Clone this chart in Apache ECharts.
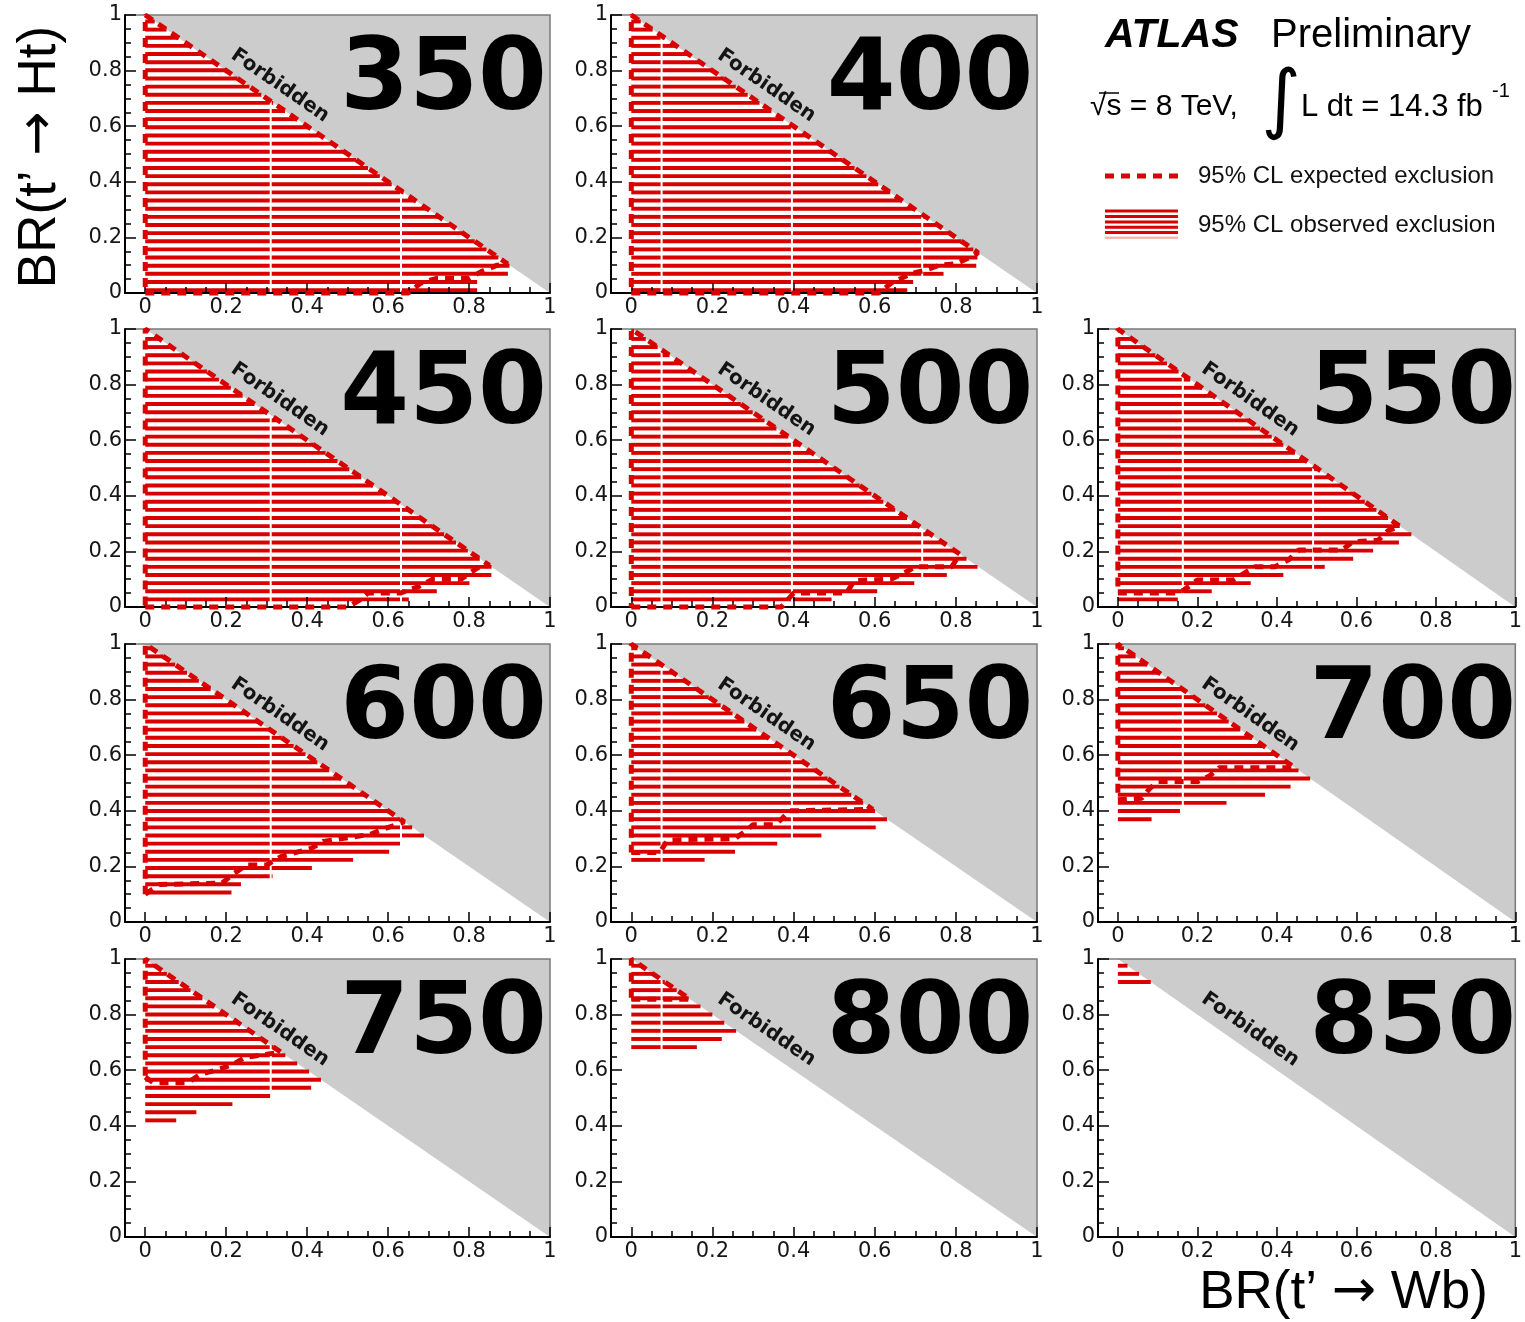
<!DOCTYPE html>
<html>
<head>
<meta charset="utf-8">
<script src="https://cdn.jsdelivr.net/npm/echarts@6/dist/echarts.min.js"></script>
<style>
  html, body { margin: 0; padding: 0; background: #ffffff; }
  #chart { width: 1525px; height: 1322px; }
</style>
</head>
<body>
<div id="chart"></div>
<script>
// t' signal masses in GeV, one panel each
const masses = [350, 400, 450, 500, 550, 600, 650, 700, 750, 800, 850];

// Tick values shared by every panel
const majorTicks = [0, 0.2, 0.4, 0.6, 0.8, 1];
const minorTicks = [-0.05, 0.05, 0.1, 0.15, 0.25, 0.3, 0.35, 0.45, 0.5, 0.55,
                    0.65, 0.7, 0.75, 0.85, 0.9, 0.95];

// 95% CL observed excluded regions: polygon vertices [BR(t'->Wb), BR(t'->Ht)]
const obs350 = [[0, 0], [0, 1], [0.90, 0.10], [0.90, 0.07], [0.86, 0.06], [0.82, 0.04], [0.82, 0]];
const obs400 = [[0, 0], [0, 1], [0.855, 0.145], [0.85, 0.095], [0.81, 0.08], [0.70, 0.05], [0.675, 0]];
const obs450 = [[0, 0], [0, 1], [0.87, 0.13], [0.84, 0.10], [0.73, 0.06], [0.66, 0.035], [0.62, 0]];
const obs500 = [[0, 0], [0, 1], [0.855, 0.145], [0.79, 0.12], [0.74, 0.10], [0.62, 0.06], [0.50, 0.03], [0.43, 0]];
const obs550 = [[0, 0], [0, 1], [0.755, 0.245], [0.68, 0.225], [0.62, 0.19], [0.56, 0.155], [0.43, 0.12],
                [0.29, 0.07], [0.17, 0.04], [0.11, 0]];
const obs600 = [[0, 0.09], [0, 1], [0.69, 0.31], [0.64, 0.29], [0.60, 0.25], [0.47, 0.21], [0.36, 0.18],
                [0.24, 0.14], [0.20, 0.09]];
const obs650 = [[0, 0.21], [0, 1], [0.65, 0.35], [0.55, 0.33], [0.42, 0.30], [0.32, 0.27], [0.19, 0.235], [0.17, 0.21]];
const obs700 = [[0, 0.345], [0, 1], [0.50, 0.50], [0.40, 0.48], [0.36, 0.45], [0.22, 0.415], [0.10, 0.385], [0.06, 0.345]];
const obs750 = [[0, 0.405], [0, 1], [0.45, 0.55], [0.39, 0.53], [0.30, 0.505], [0.19, 0.47], [0.10, 0.44], [0.06, 0.405]];
const obs800 = [[0, 0.665], [0, 1], [0.26, 0.74], [0.22, 0.71], [0.17, 0.69], [0.14, 0.665]];
const obs850 = [[0, 0.90], [0, 1], [0.10, 0.90]];

// 95% CL expected exclusion contours
const exp350 = [[0, 0], [0.65, 0], [0.68, 0.035], [0.72, 0.053], [0.80, 0.053], [0.83, 0.077], [0.87, 0.10],
                [0.895, 0.105], [0, 1], [0, 0]];
const exp400 = [[0, 0], [0.61, 0], [0.64, 0.035], [0.69, 0.07], [0.72, 0.08], [0.76, 0.10], [0.80, 0.105],
                [0.83, 0.125], [0.855, 0.145], [0, 1], [0, 0]];
const exp450 = [[0, 0], [0.50, 0], [0.53, 0.025], [0.55, 0.05], [0.63, 0.05], [0.675, 0.073], [0.71, 0.10],
                [0.78, 0.10], [0.82, 0.14], [0.85, 0.15], [0, 1], [0, 0]];
const exp500 = [[0, 0], [0.37, 0], [0.40, 0.05], [0.53, 0.05], [0.55, 0.095], [0.64, 0.10], [0.67, 0.12],
                [0.70, 0.145], [0.79, 0.145], [0.81, 0.19], [0, 1], [0, 0]];
const exp550 = [[0, 0.05], [0.14, 0.05], [0.165, 0.06], [0.20, 0.097], [0.29, 0.097], [0.31, 0.115],
                [0.345, 0.145], [0.395, 0.145], [0.43, 0.17], [0.455, 0.205], [0.565, 0.205], [0.59, 0.235],
                [0.655, 0.24], [0.68, 0.275], [0.71, 0.29], [0, 1], [0, 0.05]];
const exp600 = [[0, 0.10], [0.035, 0.135], [0.19, 0.14], [0.22, 0.175], [0.25, 0.205], [0.30, 0.205],
                [0.335, 0.235], [0.36, 0.245], [0.41, 0.265], [0.44, 0.29], [0.555, 0.315], [0.59, 0.335],
                [0.64, 0.36], [0, 1], [0, 0.10]];
const exp650 = [[0, 0.25], [0.07, 0.25], [0.09, 0.295], [0.255, 0.30], [0.285, 0.33], [0.30, 0.35],
                [0.355, 0.35], [0.37, 0.37], [0.39, 0.40], [0.595, 0.405], [0, 1], [0, 0.25]];
const exp700 = [[0, 0.44], [0.06, 0.445], [0.08, 0.48], [0.10, 0.505], [0.20, 0.505], [0.23, 0.525],
                [0.255, 0.555], [0.445, 0.555], [0, 1], [0, 0.44]];
const exp750 = [[0, 0.575], [0.02, 0.555], [0.105, 0.555], [0.135, 0.585], [0.175, 0.60], [0.215, 0.62],
                [0.245, 0.645], [0.29, 0.655], [0.335, 0.665], [0, 1], [0, 0.575]];
const exp800 = [[0, 0.855], [0.145, 0.855], [0, 1], [0, 0.855]];
const exp850 = [];

const observed = [obs350, obs400, obs450, obs500, obs550, obs600, obs650, obs700, obs750, obs800, obs850];
const expected = [exp350, exp400, exp450, exp500, exp550, exp600, exp650, exp700, exp750, exp800, exp850];

// ---- layout & style ----
const COL_LEFT = [125, 611, 1098];
const COL_WIDTH = [425, 426, 425];
const ROW_TOP = [15, 329, 644, 959];
const ROW_HEIGHT = 278;

const RED = '#d80000';
const GRAY = '#cccccc';
const TICK_FONT = '"DejaVu Sans", sans-serif';
const TEXT_FONT = '"Liberation Sans", Arial, sans-serif';

// hatch pattern (pixel space, shared by the whole canvas)
const HATCH_PERIOD = 8.14;
const HATCH_PHASE = 5.2;
const HATCH_THICK = 3.9;
const SEAM_X0 = 270.7;
const SEAM_STEP = 130.3;
const SEAM_GAP = 2;

function fmtTick(v) {
  const r = Math.round(v * 10) / 10;
  return r === 0 ? '0' : r === 1 ? '1' : String(r);
}

// slot in the 3x4 layout (top-right slot holds the legend)
function slotOf(i) {
  const s = i < 2 ? i : i + 1;
  return { row: Math.floor(s / 3), col: s % 3 };
}

function hatchRect(x0, x1, y) {
  return { type: 'rect', shape: { x: x0, y: y - HATCH_THICK / 2, width: x1 - x0, height: HATCH_THICK },
           style: { fill: RED } };
}

// horizontal line hatching of an excluded polygon
function hatchRenderer(poly) {
  return function (params, api) {
    const children = [];
    if (!poly.length) return { type: 'group', children };
    const pts = poly.map(p => api.coord(p));
    const ys = pts.map(p => p[1]);
    const yMin = Math.min.apply(null, ys), yMax = Math.max.apply(null, ys);
    const k0 = Math.ceil((yMin - HATCH_PHASE) / HATCH_PERIOD);
    for (let y = HATCH_PHASE + k0 * HATCH_PERIOD; y <= yMax; y += HATCH_PERIOD) {
      const xs = [];
      for (let i = 0; i < pts.length; i++) {
        const a = pts[i], b = pts[(i + 1) % pts.length];
        if ((a[1] <= y && b[1] > y) || (b[1] <= y && a[1] > y)) {
          xs.push(a[0] + (y - a[1]) * (b[0] - a[0]) / (b[1] - a[1]));
        }
      }
      xs.sort((p, q) => p - q);
      for (let j = 0; j + 1 < xs.length; j += 2) {
        const x0 = xs[j], x1 = xs[j + 1];
        let start = x0;
        const m0 = Math.ceil((x0 - SEAM_X0) / SEAM_STEP);
        for (let s = SEAM_X0 + m0 * SEAM_STEP; s < x1; s += SEAM_STEP) {
          if (s - SEAM_GAP / 2 > start) children.push(hatchRect(start, s - SEAM_GAP / 2, y));
          start = s + SEAM_GAP / 2;
        }
        if (x1 > start) children.push(hatchRect(start, x1, y));
      }
    }
    return { type: 'group', children };
  };
}

// kinematically forbidden triangle, frame, and panel labels
function forbiddenRenderer(mass) {
  return function (params, api) {
    const tl = api.coord([0, 1]), tr = api.coord([1, 1]), br = api.coord([1, 0]);
    const fl = api.coord([-0.05, 1]);
    const lab = api.coord([0.333, 0.746]);
    const num = api.coord([0.482, 0.755]);
    const angle = Math.atan2(br[1] - tl[1], br[0] - tl[0]);
    return {
      type: 'group',
      children: [
        { type: 'polygon', shape: { points: [tl, tr, br] }, style: { fill: GRAY } },
        { type: 'polyline', shape: { points: [fl, tr, br] }, style: { stroke: '#7a7a7a', lineWidth: 1.5, fill: null } },
        { type: 'text', x: lab[0], y: lab[1], rotation: -angle,
          style: { text: 'Forbidden', font: 'bold 20px "DejaVu Sans"', fill: '#141414',
                   align: 'center', verticalAlign: 'middle' } },
        { type: 'text', x: num[0], y: num[1],
          style: { text: String(mass), font: 'bold 99px "DejaVu Sans"', fill: '#000',
                   align: 'left', verticalAlign: 'middle' } }
      ]
    };
  };
}

const grids = [], xAxes = [], yAxes = [], series = [];

masses.forEach((mass, i) => {
  const { row, col } = slotOf(i);
  grids.push({ left: COL_LEFT[col], top: ROW_TOP[row], width: COL_WIDTH[col], height: ROW_HEIGHT, show: false });

  xAxes.push({
    type: 'value', gridIndex: i, min: -0.05, max: 1, position: 'bottom', z: 5,
    axisLine: { show: true, onZero: false, lineStyle: { color: '#000', width: 2 } },
    axisTick: { show: true, inside: true, length: 10, customValues: majorTicks,
                lineStyle: { color: '#000', width: 1.5 } },
    axisLabel: { show: true, customValues: majorTicks, margin: 4, color: '#161616',
                 fontFamily: TICK_FONT, fontSize: 21, formatter: fmtTick },
    splitLine: { show: false }
  });
  xAxes.push({
    type: 'value', gridIndex: i, min: -0.05, max: 1, position: 'bottom', z: 5,
    axisLine: { show: false },
    axisTick: { show: true, inside: true, length: 6, customValues: minorTicks,
                lineStyle: { color: '#000', width: 1.5 } },
    axisLabel: { show: false },
    splitLine: { show: false }
  });
  yAxes.push({
    type: 'value', gridIndex: i, min: 0, max: 1, interval: 0.2, z: 5,
    axisLine: { show: true, onZero: false, lineStyle: { color: '#000', width: 2 } },
    axisTick: { show: true, inside: true, length: 11, lineStyle: { color: '#000', width: 1.5 } },
    minorTick: { show: true, splitNumber: 4, length: 6, lineStyle: { color: '#000', width: 1.5 } },
    axisLabel: { margin: 3, color: '#161616', fontFamily: TICK_FONT, fontSize: 21, formatter: fmtTick },
    splitLine: { show: false },
    minorSplitLine: { show: false }
  });

  series.push({
    name: 'Forbidden ' + mass, type: 'custom', xAxisIndex: 2 * i, yAxisIndex: i, z: 1,
    silent: true, data: [[0, 0]], renderItem: forbiddenRenderer(mass)
  });
  series.push({
    name: '95% CL observed exclusion ' + mass, type: 'custom', xAxisIndex: 2 * i, yAxisIndex: i, z: 2,
    silent: true, data: [[0, 0]], renderItem: hatchRenderer(observed[i])
  });
  series.push({
    name: '95% CL expected exclusion ' + mass, type: 'line', xAxisIndex: 2 * i, yAxisIndex: i, z: 8,
    silent: true, data: expected[i], symbol: 'none', showSymbol: false, clip: false,
    lineStyle: { color: RED, width: 5, type: [9, 7] }
  });
});

// hatch sample rows for the legend
const legendHatch = [211, 216.5, 222, 227.3, 232.6].map(y => ({
  type: 'rect', shape: { x: 1105, y: y - 1.5, width: 73, height: 3 }, style: { fill: RED }
}));
legendHatch.push({ type: 'rect', shape: { x: 1105, y: 236.6, width: 73, height: 2.4 }, style: { fill: '#f2b8b8' } });

// axis titles with a long arrow glyph
const arrowRich = {
  t: { fontFamily: TEXT_FONT, fontSize: 53, fill: '#000' },
  a: { fontFamily: '"DejaVu Sans"', fontSize: 53, fill: '#000' }
};

const graphic = [
  { type: 'text', x: 1105, y: 36,
    style: { text: 'ATLAS', font: 'bold italic 41px ' + TEXT_FONT, fill: '#000', align: 'left', verticalAlign: 'middle' } },
  { type: 'text', x: 1271, y: 36,
    style: { text: 'Preliminary', font: '40px ' + TEXT_FONT, fill: '#000', align: 'left', verticalAlign: 'middle' } },
  { type: 'text', x: 1090, y: 107,
    style: { text: '√s = 8 TeV,', font: '30px ' + TEXT_FONT, fill: '#000', align: 'left', verticalAlign: 'middle' } },
  { type: 'line', shape: { x1: 1099, y1: 93, x2: 1119, y2: 93 }, style: { stroke: '#000', lineWidth: 1.5 } },
  { type: 'text', x: 1281, y: 104,
    style: { text: '∫', font: '76px "DejaVu Sans"', fill: '#000', align: 'center', verticalAlign: 'middle' } },
  { type: 'text', x: 1301, y: 107,
    style: { text: 'L dt = 14.3 fb', font: '31px ' + TEXT_FONT, fill: '#000', align: 'left', verticalAlign: 'middle' } },
  { type: 'text', x: 1492, y: 91,
    style: { text: '-1', font: '20px ' + TEXT_FONT, fill: '#000', align: 'left', verticalAlign: 'middle' } },
  { type: 'line', shape: { x1: 1105, y1: 176, x2: 1180, y2: 176 },
    style: { stroke: RED, lineWidth: 5, lineDash: [9, 7] } },
  { type: 'text', x: 1198, y: 176,
    style: { text: '95% CL expected exclusion', font: '24px ' + TEXT_FONT, fill: '#111', align: 'left', verticalAlign: 'middle' } },
  { type: 'group', children: legendHatch },
  { type: 'text', x: 1198, y: 225,
    style: { text: '95% CL observed exclusion', font: '24px ' + TEXT_FONT, fill: '#111', align: 'left', verticalAlign: 'middle' } },
  { type: 'text', x: 40, y: 157, rotation: Math.PI / 2,
    style: { text: '{t|BR(t’ }{a|→}{t| Ht)}', rich: arrowRich, align: 'center', verticalAlign: 'middle' } },
  { type: 'text', x: 1488, y: 1293,
    style: { text: '{t|BR(t’ }{a|→}{t| Wb)}', rich: arrowRich, align: 'right', verticalAlign: 'middle' } }
];

const chart = echarts.init(document.getElementById('chart'));
chart.setOption({
  animation: false,
  backgroundColor: '#ffffff',
  grid: grids,
  xAxis: xAxes,
  yAxis: yAxes,
  series: series,
  graphic: graphic
});
</script>
</body>
</html>
